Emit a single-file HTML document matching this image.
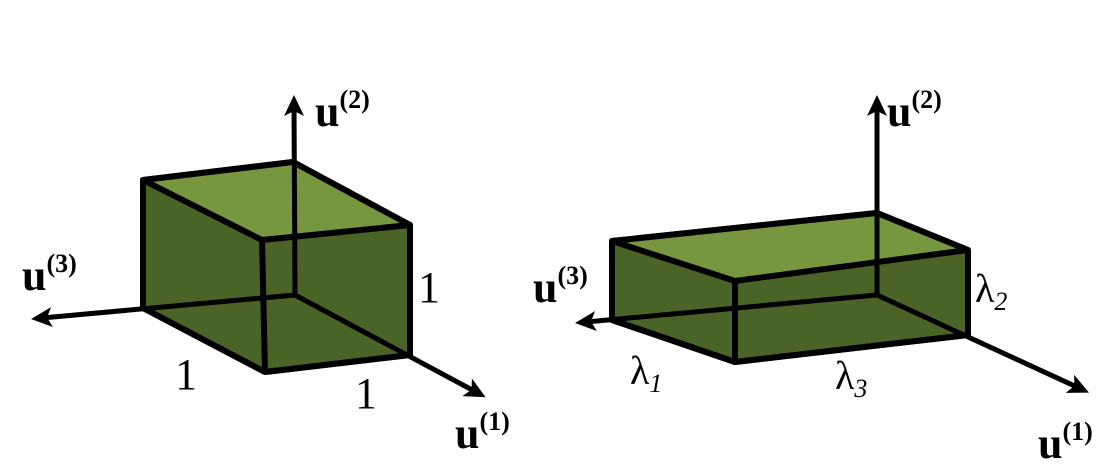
<!DOCTYPE html>
<html><head><style>
html,body{margin:0;padding:0;background:#fff;width:1112px;height:473px;overflow:hidden}
text{font-family:"Liberation Serif",serif}
</style></head><body>
<svg width="1112" height="473" viewBox="0 0 1112 473" xmlns="http://www.w3.org/2000/svg">
<defs>
<marker id="ah" markerWidth="5" markerHeight="5" refX="2" refY="2.2" orient="auto" markerUnits="strokeWidth">
<path d="M0,0.2 L4.2,2.2 L0,4.2 L1,2.2 Z" fill="#000"/>
</marker>
</defs>
<g stroke="#000" stroke-width="6" stroke-linejoin="round" stroke-linecap="round">
<polygon points="143,180 293,162 410,225 410,355 265,372 143,308" fill="#4a6428"/>
<polygon points="143,180 293,162 410,225 262,240" fill="#76963f"/>
<polyline points="262,240 265,372" fill="none"/>
<polyline points="143,308 265,372 410,355" fill="none"/>
<line x1="295" y1="295" x2="42" y2="318" stroke-width="5" marker-end="url(#ah)"/>
<line x1="295" y1="295" x2="476" y2="392" stroke-width="5" marker-end="url(#ah)"/>
<line x1="295" y1="295" x2="294" y2="106" stroke-width="5" marker-end="url(#ah)"/>
<polygon points="612,241 877,213 968,250 968,335 735,362 612,320" fill="#4a6428"/>
<polygon points="612,241 877,213 968,250 735,281" fill="#76963f"/>
<polyline points="735,281 735,362" fill="none"/>
<polyline points="612,320 735,362 968,335" fill="none"/>
<line x1="877" y1="295" x2="586" y2="322" stroke-width="5" marker-end="url(#ah)"/>
<line x1="877" y1="295" x2="1079" y2="388" stroke-width="5" marker-end="url(#ah)"/>
<line x1="877" y1="295" x2="877" y2="106" stroke-width="5" marker-end="url(#ah)"/>
</g>
<g fill="#000">
<text x="315" y="126" font-size="44" font-weight="bold">u<tspan font-size="26" dy="-18">(2)</tspan></text>
<text x="22" y="290" font-size="44" font-weight="bold">u<tspan font-size="26" dy="-18">(3)</tspan></text>
<text x="455" y="448" font-size="44" font-weight="bold">u<tspan font-size="26" dy="-18">(1)</tspan></text>
<text x="418" y="302" font-size="44">1</text>
<text x="175" y="389" font-size="44">1</text>
<text x="355" y="408" font-size="44">1</text>
<text x="887" y="126" font-size="44" font-weight="bold">u<tspan font-size="26" dy="-18">(2)</tspan></text>
<text x="533" y="302" font-size="44" font-weight="bold">u<tspan font-size="26" dy="-18">(3)</tspan></text>
<text x="1038" y="458" font-size="44" font-weight="bold">u<tspan font-size="26" dy="-18">(1)</tspan></text>
<text x="975" y="302" font-size="40">λ<tspan font-size="26" font-style="italic" dy="8">2</tspan></text>
<text x="630" y="384" font-size="40">λ<tspan font-size="26" font-style="italic" dy="8">1</tspan></text>
<text x="835" y="389" font-size="40">λ<tspan font-size="26" font-style="italic" dy="8">3</tspan></text>
</g>
</svg>
</body></html>
